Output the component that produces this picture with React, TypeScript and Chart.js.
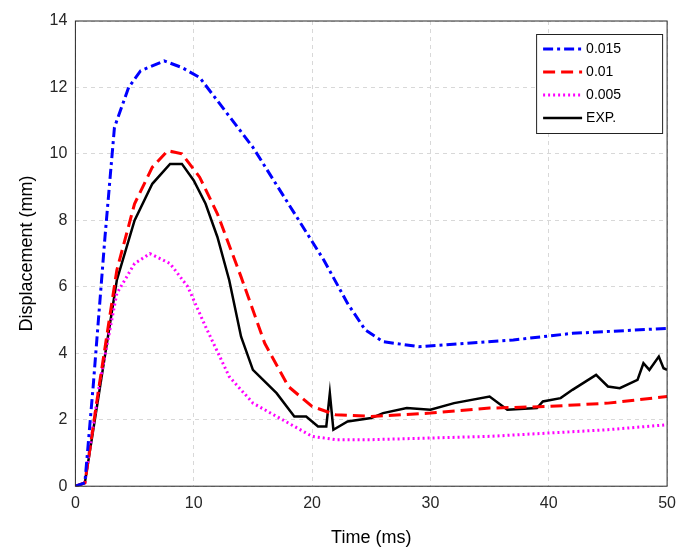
import React, { useRef, useEffect } from 'react';
import { Chart, registerables } from 'chart.js';

Chart.register(...registerables);

const xTicks = [0, 10, 20, 30, 40, 50];
const yTicks = [0, 2, 4, 6, 8, 10, 12, 14];

const blueX = [0, 0.8, 1.5, 2.5, 3.3, 4.5, 5.5, 7.5, 9, 10.5, 12, 15, 18, 21, 23, 24.5, 26, 29, 33, 37, 42, 50];
const blueY = [0, 0.1, 3, 7.5, 10.8, 12, 12.5, 12.8, 12.6, 12.3, 11.6, 10.2, 8.5, 6.8, 5.5, 4.7, 4.35, 4.2, 4.3, 4.4, 4.6, 4.75];

const redX = [0, 0.8, 2, 3.5, 5, 6.5, 7.8, 9, 10.5, 12, 14, 16, 18, 20, 22, 25, 30, 35, 40, 45, 50];
const redY = [0, 0.1, 3, 6.5, 8.5, 9.6, 10.1, 10, 9.3, 8.2, 6.3, 4.3, 3, 2.4, 2.15, 2.1, 2.2, 2.35, 2.4, 2.5, 2.7];

const magX = [0, 0.8, 2, 3.5, 5, 6.3, 8, 9.5, 11, 13, 15, 18, 20, 22, 25, 30, 35, 40, 45, 50];
const magY = [0, 0.1, 3, 5.8, 6.7, 7, 6.7, 6, 4.8, 3.3, 2.5, 1.9, 1.5, 1.4, 1.4, 1.45, 1.5, 1.6, 1.7, 1.85];

const expX = [0, 0.8, 2, 3.5, 5, 6.5, 8, 9, 10, 11, 12, 13, 14, 15, 17, 18.5, 19.5, 20.5, 21.2, 21.5, 21.8, 23, 25, 26, 28, 30, 32, 35, 36.5, 39, 39.5, 41, 42, 44, 45, 46, 47.5, 48, 48.5, 49.3, 49.7, 50];
const expY = [0, 0.1, 2.8, 6.2, 8, 9.1, 9.7, 9.7, 9.2, 8.5, 7.5, 6.2, 4.5, 3.5, 2.8, 2.1, 2.1, 1.8, 1.8, 2.8, 1.7, 1.95, 2.05, 2.2, 2.35, 2.3, 2.5, 2.7, 2.3, 2.35, 2.55, 2.65, 2.9, 3.35, 3, 2.95, 3.2, 3.7, 3.5, 3.9, 3.55, 3.5];

const pts = (xs: number[], ys: number[]) => xs.map((x, i) => ({ x, y: ys[i] }));

const FONT = '"Liberation Sans", Arial, sans-serif';

const boxLegend = {
  id: 'boxLegend',
  afterDraw(chart: any) {
    const { ctx, chartArea } = chart;
    const w = 126, h = 99;
    const x0 = chartArea.right - w - 5, y0 = chartArea.top + 13;
    ctx.save();
    ctx.fillStyle = '#fff';
    ctx.fillRect(x0, y0, w, h);
    ctx.strokeStyle = '#222';
    ctx.lineWidth = 1;
    ctx.strokeRect(x0 + 0.5, y0 + 0.5, w, h);
    ctx.font = `14px ${FONT}`;
    ctx.textBaseline = 'middle';
    chart.data.datasets.forEach((ds: any, i: number) => {
      const y = y0 + 15 + i * 23;
      ctx.strokeStyle = ds.borderColor;
      ctx.lineWidth = ds.borderWidth;
      ctx.setLineDash(ds.borderDash || []);
      ctx.beginPath();
      ctx.moveTo(x0 + 7, y);
      ctx.lineTo(x0 + 46, y);
      ctx.stroke();
      ctx.setLineDash([]);
      ctx.fillStyle = '#000';
      ctx.fillText(ds.label, x0 + 50, y);
    });
    ctx.restore();
  },
};

const frame = {
  id: 'frame',
  afterDatasetsDraw(chart: any) {
    const { ctx, chartArea: a } = chart;
    ctx.save();
    ctx.strokeStyle = '#262626';
    ctx.lineWidth = 1;
    ctx.strokeRect(a.left, a.top, a.right - a.left, a.bottom - a.top);
    ctx.restore();
  },
};

const App: React.FC = () => {
  const chartRef = useRef<HTMLCanvasElement>(null);
  const chartInstance = useRef<Chart | null>(null);

  useEffect(() => {
    document.body.style.margin = '0';
    if (!chartRef.current) return;
    const ctx = chartRef.current.getContext('2d');
    if (!ctx) return;

    const line = (label: string, data: any, color: string, dash: number[], width: number) => ({
      label, data, borderColor: color, backgroundColor: color, borderDash: dash,
      borderWidth: width, pointRadius: 0, tension: 0, fill: false,
    });

    chartInstance.current = new Chart(ctx, {
      type: 'line',
      data: {
        datasets: [
          line('0.015', pts(blueX, blueY), '#0000ff', [10, 4, 3, 4], 3),
          line('0.01', pts(redX, redY), '#ff0000', [12, 6], 3),
          line('0.005', pts(magX, magY), '#ff00ff', [2, 3], 3),
          line('EXP.', pts(expX, expY), '#000000', [], 2.5),
        ],
      },
      options: {
        animation: false,
        responsive: false,
        layout: { padding: { top: 21, right: 9, left: 12, bottom: 0 } },
        plugins: { legend: { display: false }, tooltip: { enabled: false } },
        scales: {
          x: {
            type: 'linear', min: 0, max: 50,
            afterBuildTicks: (s: any) => { s.ticks = xTicks.map(v => ({ value: v })); },
            grid: { color: '#d8d8d8', tickLength: 0, drawTicks: false },
            border: { display: false, dash: [4, 4] },
            ticks: { color: '#262626', font: { family: FONT, size: 16 }, padding: 8, maxRotation: 0 },
            title: { display: true, text: 'Time (ms)', color: '#000', font: { family: FONT, size: 18 }, padding: { top: 6, bottom: 2 } },
          },
          y: {
            type: 'linear', min: 0, max: 14,
            afterBuildTicks: (s: any) => { s.ticks = yTicks.map(v => ({ value: v })); },
            grid: { color: '#d8d8d8', drawTicks: false },
            border: { display: false, dash: [4, 4] },
            ticks: { color: '#262626', font: { family: FONT, size: 16 }, padding: 8 },
            title: { display: true, text: 'Displacement (mm)', color: '#000', font: { family: FONT, size: 18 }, padding: { bottom: 4 } },
          },
        },
      },
      plugins: [frame, boxLegend],
    });

    return () => {
      if (chartInstance.current) {
        chartInstance.current.destroy();
        chartInstance.current = null;
      }
    };
  }, []);

  return <canvas ref={chartRef} width={684} height={551} />;
};

export default App;
